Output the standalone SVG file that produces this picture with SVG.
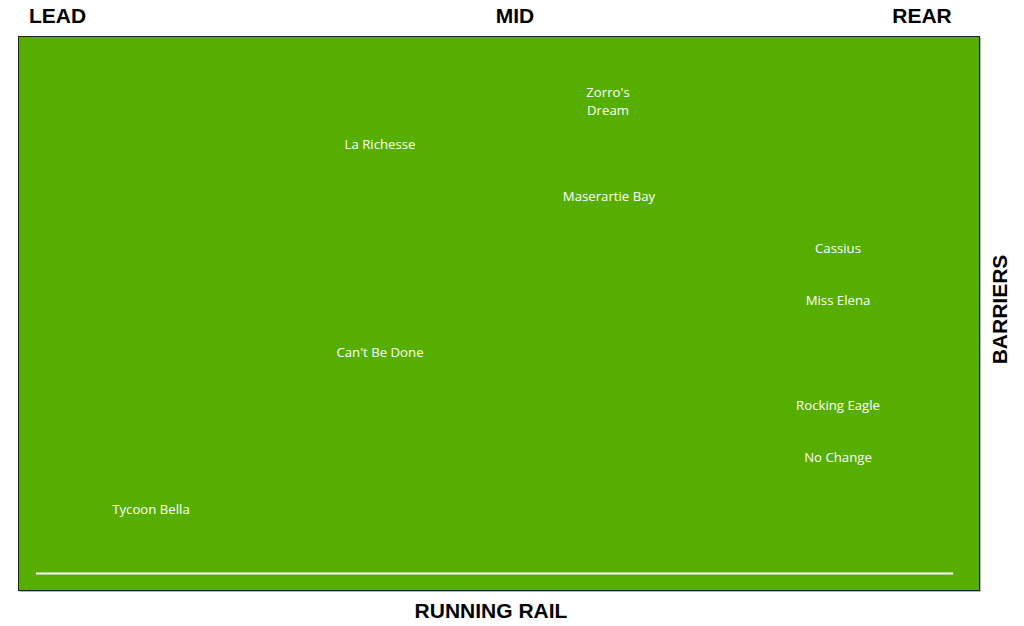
<svg xmlns="http://www.w3.org/2000/svg" width="1024" height="626" viewBox="0 0 1024 626">
<style>
.h{font-family:"Liberation Sans",Arial,sans-serif;font-weight:bold;font-size:21px;fill:#000;text-anchor:middle}
.n{font-family:"Open Sans","Noto Sans",sans-serif;font-size:13.2px;fill:#fff;text-anchor:middle}
</style>
<rect width="1024" height="626" fill="#fff"/>
<rect x="19.5" y="37.5" width="961" height="554" fill="#6b6b6b"/>
<rect x="18.5" y="36.5" width="961" height="554" fill="#56af00" stroke="#222" stroke-width="1"/>
<g id="connectors">
<line x1="36" y1="573.5" x2="953" y2="573.5" stroke="#fff" stroke-width="2"/>
</g>
<text class="h" x="57.5" y="22.5">LEAD</text>
<text class="h" x="515" y="22.5">MID</text>
<text class="h" x="922" y="22.5">REAR</text>
<text class="h" x="491" y="618">RUNNING RAIL</text>
<text class="h" transform="translate(1007,309.5) rotate(-90)">BARRIERS</text>
<g id="zorros-dream"><text class="n" x="608" y="96.5">Zorro's</text><text class="n" x="608" y="114.5">Dream</text></g>
<g id="la-richesse"><text class="n" x="380" y="148.5">La Richesse</text></g>
<g id="maserartie-bay"><text class="n" x="609" y="200.5">Maserartie Bay</text></g>
<g id="cassius"><text class="n" x="838" y="252.5">Cassius</text></g>
<g id="miss-elena"><text class="n" x="838" y="304.5">Miss Elena</text></g>
<g id="cant-be-done"><text class="n" x="380" y="356.5">Can't Be Done</text></g>
<g id="rocking-eagle"><text class="n" x="838" y="409.5">Rocking Eagle</text></g>
<g id="no-change"><text class="n" x="838" y="461.5">No Change</text></g>
<g id="tycoon-bella"><text class="n" x="151" y="513.5">Tycoon Bella</text></g>
</svg>
